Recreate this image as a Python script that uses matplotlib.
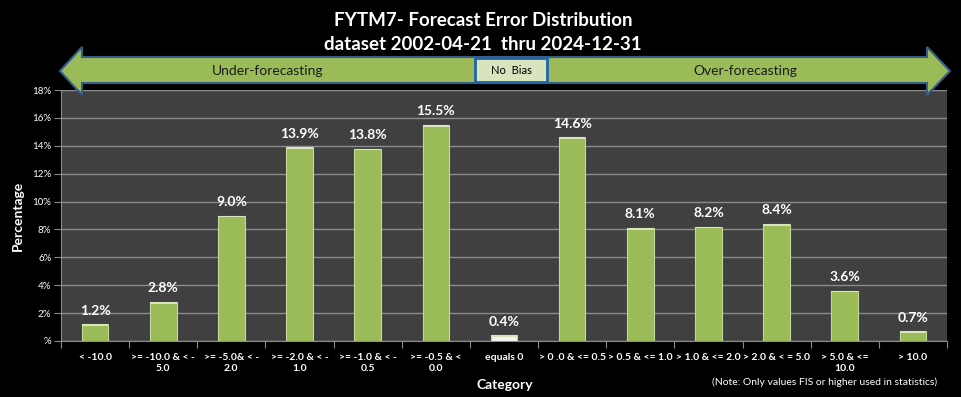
import matplotlib
matplotlib.use('Agg')
import matplotlib.pyplot as plt
from matplotlib.patches import Polygon, Rectangle

# category labels and percentages
categories = ['< -10.0', '>= -10.0 & < -\n5.0', '>= -5.0& < -\n2.0', '>= -2.0 & < -\n1.0',
              '>= -1.0 & < -\n0.5', '>= -0.5 & <\n0.0', 'equals 0', '> 0 .0 & <= 0.5',
              '> 0.5 & <= 1.0', '> 1.0 & <= 2.0', '> 2.0 & < = 5.0', '> 5.0 & <=\n10.0', '> 10.0']
percent = [1.2, 2.8, 9.0, 13.9, 13.8, 15.5, 0.4, 14.6, 8.1, 8.2, 8.4, 3.6, 0.7]
ytick_vals = [0, 2, 4, 6, 8, 10, 12, 14, 16, 18]
ytick_labels = ['%', '2%', '4%', '6%', '8%', '10%', '12%', '14%', '16%', '18%']

plt.rcParams['font.family'] = ['Lato', 'DejaVu Sans']

W, H = 961, 397
fig = plt.figure(figsize=(W / 100, H / 100), dpi=100, facecolor='black')


def px(x, y):
    return (x / W, 1 - y / H)


ax = fig.add_axes([61 / W, 1 - 341 / H, (947 - 61) / W, (341 - 90) / H])
ax.set_facecolor('#404040')

xs = [i + 0.5 for i in range(len(percent))]
colors = ['#F2F2F2' if c == 'equals 0' else '#9BBB59' for c in categories]
ax.bar(xs, percent, width=0.39, color=colors, edgecolor='#C3D69B', linewidth=0.8, zorder=3)
# thin light strip on top of each bar for the bevel look
ax.bar(xs, [0.12] * len(percent), bottom=[v - 0.12 for v in percent], width=0.39,
       color='#D7E4BD', linewidth=0, zorder=3)
for x, v in zip(xs, percent):
    ax.text(x, v + 0.55, '%.1f%%' % v, ha='center', va='bottom', color='white',
            fontsize=10, fontweight='bold', zorder=4)

ax.set_xlim(0, len(percent))
ax.set_ylim(0, 18)
ax.set_yticks(ytick_vals)
ax.set_yticklabels(ytick_labels, color='white', fontsize=7)
ax.yaxis.grid(True, color='#8C8C8C', linewidth=1)
ax.set_axisbelow(True)
ax.set_xticks(range(len(percent) + 1))
ax.set_xticklabels([''] * (len(percent) + 1))
ax.set_xticks(xs, minor=True)
ax.set_xticklabels(categories, minor=True, color='white', fontsize=7.5, fontweight='bold')
ax.tick_params(axis='x', which='minor', length=0, pad=9)
ax.tick_params(axis='x', which='major', length=5, color='#8C8C8C')
ax.tick_params(axis='y', length=5, color='#8C8C8C', pad=2)
for s in ['top', 'right']:
    ax.spines[s].set_visible(False)
for s in ['left', 'bottom']:
    ax.spines[s].set_color('#8C8C8C')

ax.set_ylabel('Percentage', color='white', fontsize=10, fontweight='bold', labelpad=6)
fig.text(505 / W, 1 - 385 / H, 'Category', color='white', fontsize=10, fontweight='bold',
         ha='center', va='center')
fig.text(825 / W, 1 - 382 / H, '(Note: Only values FIS or higher used in statistics)',
         color='white', fontsize=7.5, ha='center', va='center')

fig.text(483 / W, 1 - 21 / H, 'FYTM7- Forecast Error Distribution', color='white',
         fontsize=13.5, fontweight='bold', ha='center', va='center')
fig.text(483 / W, 1 - 45 / H, 'dataset 2002-04-21  thru 2024-12-31', color='white',
         fontsize=13.5, fontweight='bold', ha='center', va='center')

# double arrow banner
arrow = [(60, 71), (82, 47), (82, 57), (927, 57), (927, 47), (950, 71), (927, 95),
         (927, 83), (82, 83), (82, 95)]
fig.add_artist(Polygon([px(x, y) for x, y in arrow], closed=True, transform=fig.transFigure,
                       facecolor='#9BBB59', edgecolor='#385D8A', linewidth=1.5, zorder=5))
fig.add_artist(Rectangle(px(475, 82), 72 / W, 24 / H, transform=fig.transFigure,
                         facecolor='#D7E4BD', edgecolor='#1F64A8', linewidth=2, zorder=6))
fig.text(511 / W, 1 - 70 / H, 'No  Bias', color='black', fontsize=8, ha='center',
         va='center', zorder=7)
fig.text(268 / W, 1 - 71 / H, 'Under-forecasting', color='#1A1A1A', fontsize=10,
         ha='center', va='center', zorder=7)
fig.text(745 / W, 1 - 71 / H, 'Over-forecasting', color='#1A1A1A', fontsize=10,
         ha='center', va='center', zorder=7)

fig.savefig('out.png', dpi=100, facecolor='black')
